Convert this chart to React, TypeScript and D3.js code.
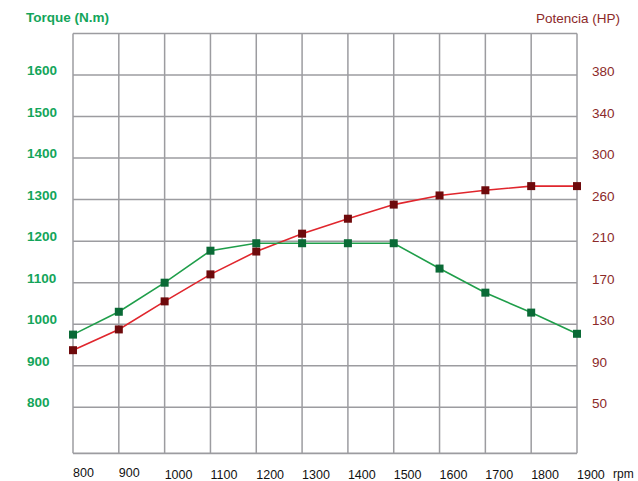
import React from "react";
import * as d3 from "d3";

const rpm = [800, 900, 1000, 1100, 1200, 1300, 1400, 1500, 1600, 1700, 1800, 1900];
const torque = [975, 1030, 1100, 1177, 1195, 1195, 1195, 1195, 1134, 1076, 1028, 977];
const power = [105, 125, 152, 178, 200, 219, 237, 254, 264, 269, 273, 273];
const torqueTicks = [800, 900, 1000, 1100, 1200, 1300, 1400, 1500, 1600];
const powerTicks = [50, 90, 130, 170, 210, 260, 300, 340, 380];
const rpmTicks = [800, 900, 1000, 1100, 1200, 1300, 1400, 1500, 1600, 1700, 1800, 1900];

const W = 638;
const H = 481;
const left = 73;
const right = 577;
const top = 33.4;
const bottom = 453.3;

export default function App() {
  const x = d3.scaleLinear().domain([800, 1900]).range([left, right]);
  const yT = d3.scaleLinear().domain([800, 1600]).range([407.3, 75]);
  const yP = d3.scaleLinear().domain(powerTicks).range(torqueTicks.map((t) => yT(t)));

  const line = d3.line<[number, number]>().x((d) => d[0]).y((d) => d[1]);
  const tPts: [number, number][] = rpm.map((r, i) => [x(r), yT(torque[i])]);
  const pPts: [number, number][] = rpm.map((r, i) => [x(r), yP(power[i])]);

  const gridColor = "#9c9ca0";
  const green = "#13a55a";
  const red = "#8c2a2a";
  const font = "'Liberation Sans', Arial, Helvetica, sans-serif";
  const sq = 8;

  const hLines = [...torqueTicks, 1700].map((t) => yT(t));

  return (
    <svg
      width={W}
      height={H}
      style={{ position: "absolute", left: 0, top: 0, background: "#fff" }}
      fontFamily={font}
    >
      {/* grid */}
      {rpmTicks.map((r) => (
        <line key={"v" + r} x1={x(r)} x2={x(r)} y1={top} y2={bottom} stroke={gridColor} strokeWidth={1.5} />
      ))}
      {hLines.map((y, i) => (
        <line key={"h" + i} x1={left} x2={right} y1={y} y2={y} stroke={gridColor} strokeWidth={1.5} />
      ))}
      <line x1={left} x2={right} y1={bottom} y2={bottom} stroke={gridColor} strokeWidth={1.8} />

      {/* titles */}
      <text x={26} y={22} fill={green} fontWeight="bold" fontSize={13.5}>
        Torque (N.m)
      </text>
      <text x={620} y={22.5} fill={red} fontSize={13.5} textAnchor="end">
        Potencia (HP)
      </text>

      {/* torque labels */}
      {torqueTicks.map((t) => (
        <text key={"t" + t} x={27} y={yT(t)} fill={green} fontWeight="bold" fontSize={13.5}>
          {t}
        </text>
      ))}
      {/* power labels */}
      {powerTicks.map((p) => (
        <text key={"p" + p} x={592} y={yP(p) + 1} fill={red} fontSize={13.5}>
          {p}
        </text>
      ))}
      {/* rpm labels */}
      {rpmTicks.map((r, i) => (
        <text key={"r" + r} x={x(r)} y={i < 2 ? 477 : 478.5} fill="#111" fontSize={12.5}>
          {r}
        </text>
      ))}
      <text x={613} y={478} fill="#111" fontSize={12}>
        rpm
      </text>

      {/* series */}
      <path d={line(pPts) || ""} fill="none" stroke="#e0262d" strokeWidth={1.6} />
      <path d={line(tPts) || ""} fill="none" stroke="#1f9e4a" strokeWidth={1.6} />
      {pPts.map((p, i) => (
        <rect key={"pp" + i} x={p[0] - sq / 2} y={p[1] - sq / 2} width={sq} height={sq} fill="#6e0a0c" />
      ))}
      {tPts.map((p, i) => (
        <rect key={"tp" + i} x={p[0] - sq / 2} y={p[1] - sq / 2} width={sq} height={sq} fill="#0a6a36" />
      ))}
    </svg>
  );
}
